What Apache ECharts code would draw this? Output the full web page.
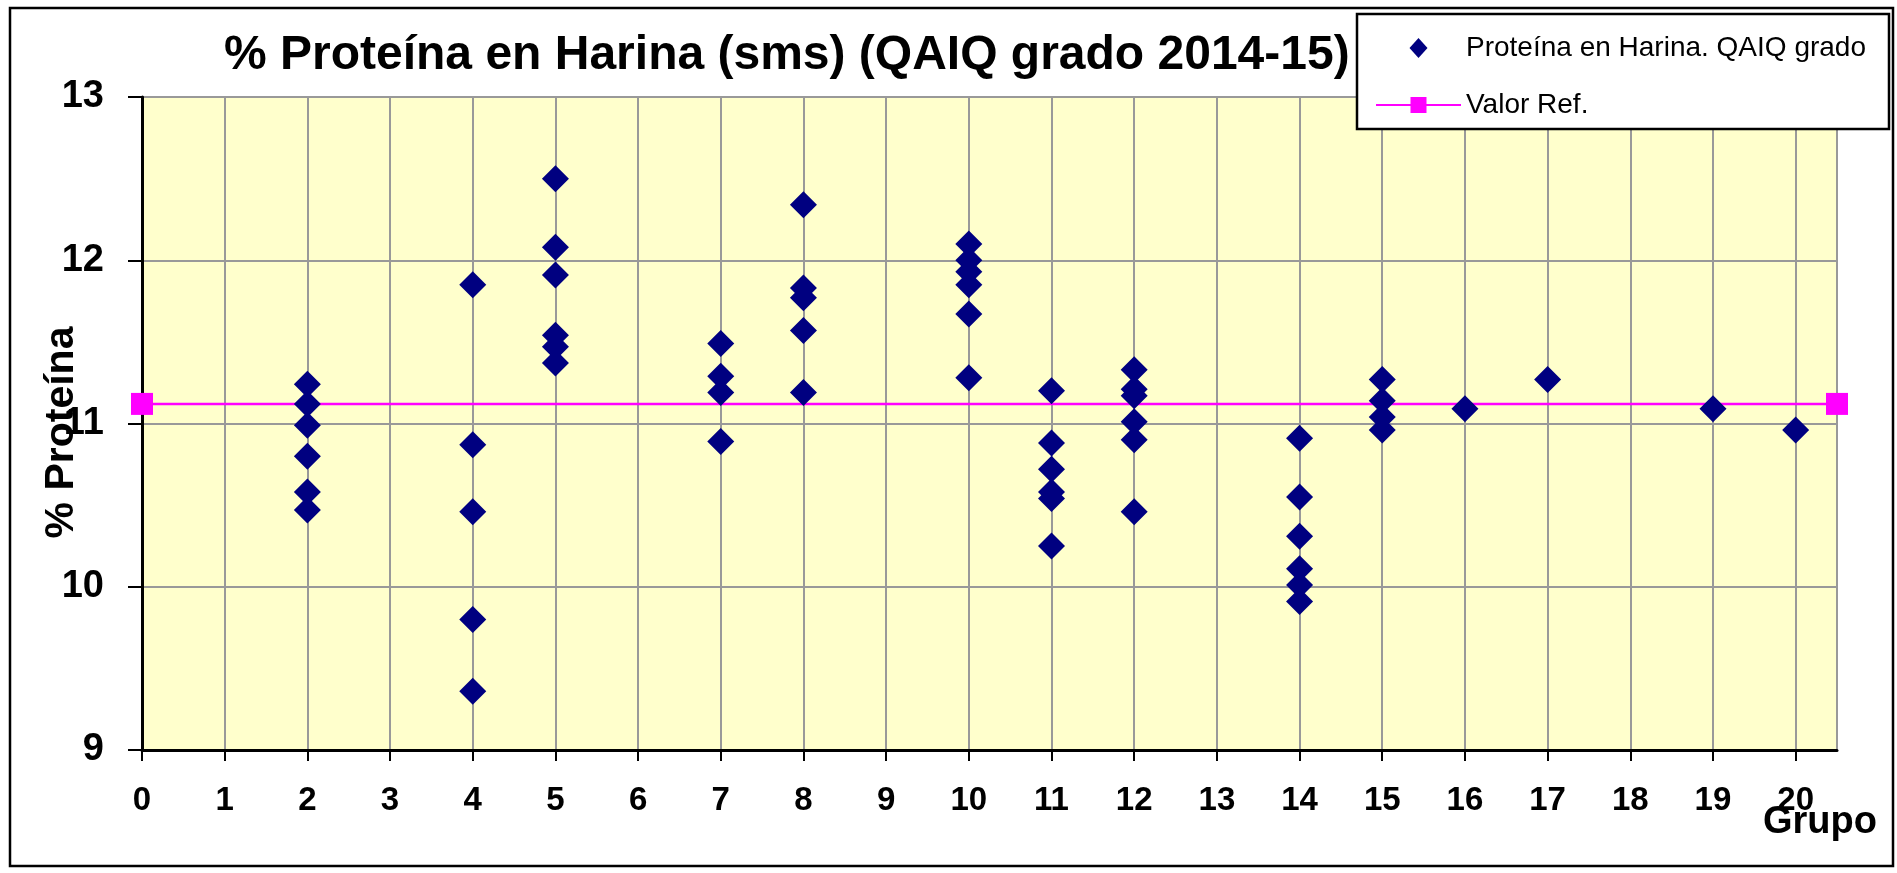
<!DOCTYPE html>
<html>
<head>
<meta charset="utf-8">
<script src="https://cdn.jsdelivr.net/npm/echarts@6/dist/echarts.min.js"></script>
<style>
html,body{margin:0;padding:0;background:#fff;}
#chart{width:1897px;height:873px;}
</style>
</head>
<body>
<div id="chart"></div>
<script>
// ---- data ----
const grupos = [2, 4, 5, 7, 8, 10, 11, 12, 14, 15, 16, 17, 19, 20];
const valoresG2  = [11.24, 11.12, 10.99, 10.80, 10.58, 10.47];
const valoresG4  = [11.85, 10.87, 10.46, 9.80, 9.36];
const valoresG5  = [12.50, 12.08, 11.91, 11.54, 11.47, 11.37];
const valoresG7  = [11.49, 11.29, 11.19, 10.89];
const valoresG8  = [12.34, 11.83, 11.77, 11.57, 11.19];
const valoresG10 = [12.10, 12.00, 11.93, 11.85, 11.67, 11.28];
const valoresG11 = [11.20, 10.88, 10.72, 10.58, 10.54, 10.25];
const valoresG12 = [11.33, 11.21, 11.17, 11.01, 10.90, 10.46];
const valoresG14 = [10.91, 10.55, 10.31, 10.11, 10.01, 9.91];
const valoresG15 = [11.27, 11.14, 11.04, 10.96];
const valoresG16 = [11.09];
const valoresG17 = [11.27];
const valoresG19 = [11.09];
const valoresG20 = [10.96];
const valoresPorGrupo = [valoresG2, valoresG4, valoresG5, valoresG7, valoresG8, valoresG10,
  valoresG11, valoresG12, valoresG14, valoresG15, valoresG16, valoresG17, valoresG19, valoresG20];

const refX = [0, 20.5];
const refValor = 11.12;

const xTicks = [0,1,2,3,4,5,6,7,8,9,10,11,12,13,14,15,16,17,18,19,20];
const yTicks = [9, 10, 11, 12, 13];

const serieProteina = 'Proteína en Harina. QAIQ grado';
const serieRef = 'Valor Ref.';
const tituloTexto = '% Proteína en Harina (sms) (QAIQ grado 2014-15)';

// ---- build ----
const puntos = [];
grupos.forEach((g, i) => valoresPorGrupo[i].forEach(v => puntos.push([g, v])));
const refData = refX.map(x => [x, refValor]);

const FONT = '"Liberation Sans", Arial, sans-serif';
const chart = echarts.init(document.getElementById('chart'), null, {renderer: 'canvas'});

chart.setOption({
  backgroundColor: '#ffffff',
  animation: false,
  title: {
    text: tituloTexto,
    left: 219, top: 27,
    textStyle: {fontFamily: FONT, fontWeight: 'bold', fontSize: 48, color: '#000'}
  },
  graphic: [{
    type: 'rect', z: -1,
    shape: {x: 10, y: 8, width: 1883, height: 858},
    style: {fill: 'none', stroke: '#000', lineWidth: 2.5}
  }],
  legend: {
    orient: 'vertical',
    left: 1357, top: 14,
    padding: [20, 23, 10, 18],
    itemGap: 29,
    itemWidth: 85, itemHeight: 20,
    symbolKeepAspect: true,
    backgroundColor: '#fff',
    borderColor: '#000', borderWidth: 2.5,
    textStyle: {fontFamily: FONT, fontSize: 28, color: '#000'},
    data: [
      {name: serieProteina, icon: 'path://M9,0 L18,10 L9,20 L0,10 Z'},
      {name: serieRef}
    ]
  },
  grid: {
    left: 142, top: 97, right: 60, bottom: 123,
    outerBoundsMode: 'none', containLabel: false,
    show: true, backgroundColor: '#FFFFCC',
    borderColor: '#999999', borderWidth: 2
  },
  xAxis: {
    type: 'value', min: 0, max: 20.5, interval: 1,
    name: 'Grupo', nameLocation: 'end', nameGap: -17, nameMoveOverlap: false,
    nameTextStyle: {fontFamily: FONT, fontWeight: 'bold', fontSize: 38, color: '#000',
      align: 'center', verticalAlign: 'top', lineHeight: 146},
    axisLine: {show: true, onZero: false, lineStyle: {color: '#000', width: 3}},
    axisTick: {show: true, length: 11, customValues: xTicks, lineStyle: {color: '#000', width: 2}},
    axisLabel: {customValues: xTicks, margin: 34, fontFamily: FONT, fontWeight: 'bold', fontSize: 33, color: '#000'},
    splitLine: {show: true, lineStyle: {color: '#999999', width: 2}}
  },
  yAxis: {
    type: 'value', min: 9, max: 13, interval: 1,
    name: '% Proteína', nameLocation: 'middle', nameGap: 60, nameRotate: 90, nameMoveOverlap: false,
    nameTextStyle: {fontFamily: FONT, fontWeight: 'bold', fontSize: 41, color: '#000', padding: [0, 18, 0, 0]},
    axisLine: {show: true, onZero: false, lineStyle: {color: '#000', width: 3}},
    axisTick: {show: true, length: 14, customValues: yTicks, lineStyle: {color: '#000', width: 2}},
    axisLabel: {customValues: yTicks, margin: 38, fontFamily: FONT, fontWeight: 'bold', fontSize: 38, color: '#000'},
    splitLine: {show: true, lineStyle: {color: '#999999', width: 2}}
  },
  series: [
    {
      name: serieRef, type: 'line', data: refData, z: 2,
      symbol: 'rect', symbolSize: 22, showAllSymbol: true,
      lineStyle: {color: '#FF00FF', width: 2.5},
      itemStyle: {color: '#FF00FF'}
    },
    {
      name: serieProteina, type: 'scatter', data: puntos, z: 3,
      symbol: 'diamond', symbolSize: 27, symbolKeepAspect: true,
      itemStyle: {color: '#000080', opacity: 1}
    }
  ]
});
</script>
</body>
</html>
